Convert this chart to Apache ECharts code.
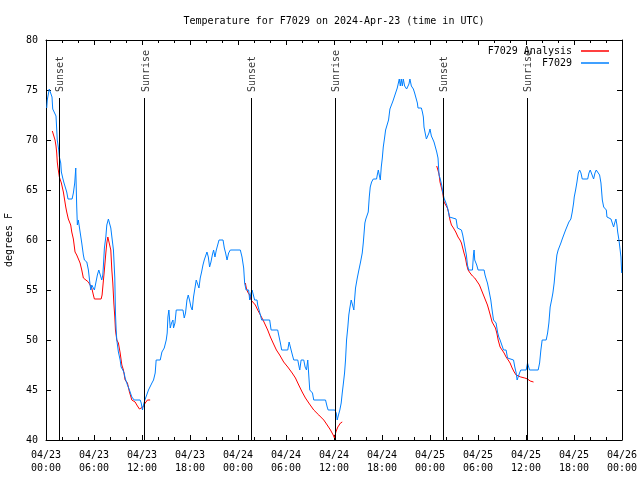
<!DOCTYPE html>
<html><head><meta charset="utf-8">
<script src="https://cdn.jsdelivr.net/npm/echarts@6/dist/echarts.min.js"></script>
<style>html,body{margin:0;padding:0;background:#fff}#c{width:640px;height:480px}</style>
</head><body><div id="c"></div>
<script>
const titleText = 'Temperature for F7029 on 2024-Apr-23 (time in UTC)';
const yAxisName = 'degrees F';
const tickDates = ['04/23','04/23','04/23','04/23','04/24','04/24','04/24','04/24','04/25','04/25','04/25','04/25','04/26'];
const tickTimes = ['00:00','06:00','12:00','18:00','00:00','06:00','12:00','18:00','00:00','06:00','12:00','18:00','00:00'];
const seriesNames = ['F7029 Analysis', 'F7029'];
// [hours since 04/23 00:00 UTC, temperature F]
const stationReadings = [[0.09,73.2],[0.16,74],[0.41,75.1],[0.63,75],[0.75,74.3],[0.84,73.1],[1.09,73],[1.25,72.4],[1.41,70],[1.59,69],[1.67,68.3],[1.84,67.7],[1.92,66.8],[2.09,66.2],[2.25,65.7],[2.59,64.8],[2.75,64.1],[3.26,64.1],[3.42,64.7],[3.59,65.7],[3.72,67.2],[3.79,67.2],[3.84,63.3],[3.92,61.5],[4.04,62],[4.26,61.8],[4.47,59.7],[4.67,58.5],[4.80,58],[5.10,57.8],[5.30,57],[5.51,55.5],[5.60,55],[5.72,55.5],[5.92,55.3],[6.05,55],[6.26,55],[6.42,56.5],[6.60,57],[6.85,57],[6.97,56],[7.10,56.5],[7.18,57.5],[7.30,59.2],[7.48,60.3],[7.60,61.5],[7.80,62.1],[7.93,61.7],[8.10,61.2],[8.35,61],[8.43,59],[8.60,56.2],[8.68,52.7],[8.77,51],[8.85,50],[9.05,48.8],[9.27,48],[9.39,47.3],[9.60,47],[9.77,46.7],[9.89,46.2],[10.18,45.5],[10.43,45],[10.73,44.3],[11.02,44],[11.77,44],[11.90,43.7],[12.06,43],[12.18,43.5],[12.36,44],[12.61,44],[12.81,45],[13.02,45.2],[13.24,45.7],[13.44,46],[13.65,46.7],[13.77,48],[14.28,48],[14.49,48.8],[14.78,49.2],[15.03,50],[15.15,50.7],[15.24,52.3],[15.36,53],[15.53,51.2],[15.69,51.7],[15.87,52],[15.94,51.2],[16.12,51.7],[16.28,53],[17.12,53],[17.28,52.2],[17.44,52.7],[17.62,54],[17.78,54.5],[17.94,54],[18.12,53.3],[18.28,53],[18.44,54.3],[18.62,55.2],[18.78,56],[18.95,55.8],[19.12,55.2],[19.28,56.2],[19.45,56.8],[19.62,57.5],[19.78,58],[19.95,58.2],[20.12,58.8],[20.29,58.3],[20.45,57.3],[20.62,57.8],[20.79,58.5],[20.95,59],[21.12,58.3],[21.29,59],[21.45,59.2],[21.63,60],[22.13,60],[22.29,59.2],[22.45,58.7],[22.63,58],[22.83,58.7],[23.04,59],[24.29,59],[24.50,58.3],[24.71,57.2],[24.83,55.7],[25.01,55],[25.33,55],[25.46,54],[25.63,54.7],[25.76,55],[25.96,55],[26.08,54],[26.38,54],[26.46,53.5],[26.63,53],[26.80,52.5],[26.96,52],[27.96,52],[28.14,51],[28.96,51],[29.14,50.3],[29.30,49.7],[29.46,49],[30.22,49],[30.39,49.8],[30.55,49.7],[30.64,49],[30.80,48.5],[30.97,48],[31.47,48],[31.64,47.3],[31.72,47],[31.89,48],[32.22,48],[32.39,47.3],[32.56,47],[32.72,48],[32.85,48],[32.97,45],[33.18,45],[33.31,44.7],[33.47,44],[34.94,44],[35.15,43.3],[35.27,43],[36.10,43],[36.28,42.7],[36.40,42],[36.56,42.5],[36.73,43],[36.90,43.7],[37.03,44.7],[37.15,45.5],[37.32,46.7],[37.44,48],[37.57,50],[37.73,51.3],[37.85,52.5],[37.98,53.2],[38.15,54],[38.32,53.5],[38.48,53],[38.57,54],[38.69,55.2],[38.91,56.2],[39.11,57],[39.32,57.8],[39.53,58.7],[39.66,59.7],[39.86,61.7],[39.98,62.1],[40.16,62.1],[40.28,62.8],[40.41,64.3],[40.53,65.3],[40.70,65.8],[40.91,66.1],[41.32,66.1],[41.41,66.5],[41.54,67],[41.66,66.5],[41.79,66],[41.91,67.3],[42.04,68.2],[42.16,69.3],[42.32,70.2],[42.45,71],[42.66,71],[42.82,72],[42.99,73.1],[43.24,73.1],[43.37,73.9],[43.49,74.1],[43.70,74.7],[43.91,75.2],[44.04,75.4],[44.16,76.1],[44.29,75.4],[44.41,76.1],[44.54,75.4],[44.66,76.1],[44.83,75.4],[45.08,75.1],[45.24,75.1],[45.37,75.6],[45.49,76.1],[45.67,75.4],[45.92,75.1],[46.08,74.7],[46.25,74.2],[46.42,73.7],[46.50,73.2],[46.92,73.2],[47.05,72.8],[47.17,72.3],[47.25,71.3],[47.42,70.6],[47.55,70.1],[47.75,70.1],[47.87,70.7],[48.00,71.1],[48.17,70.4],[48.34,70.1],[48.50,69.8],[48.67,69.3],[48.84,68.8],[49.00,68.2],[49.13,66.5],[49.25,66.2],[49.46,65.5],[49.59,64.8],[49.75,64.2],[49.93,64],[50.09,63.5],[50.26,63],[50.43,62.3],[50.59,62.1],[51.26,62.1],[51.43,61.2],[51.93,61],[52.09,60.5],[52.25,59.8],[52.43,59],[52.55,58.5],[52.68,57.5],[52.84,57],[53.31,57],[53.43,58.5],[53.51,59],[53.59,58],[53.76,58],[53.84,57.5],[54.01,57],[54.76,57],[54.88,56.5],[55.06,56],[55.18,55.7],[55.31,55.2],[55.51,55],[55.60,54],[55.76,53],[55.94,52],[56.26,51.7],[56.44,50.8],[56.60,50.3],[56.76,50],[57.01,49.8],[57.19,49],[57.51,49],[57.69,48.2],[57.77,48],[58.44,48],[58.60,47.3],[58.77,46.7],[58.89,46],[59.02,46.3],[59.19,46.7],[59.35,47],[60.02,47],[60.19,47.7],[60.36,47.7],[60.44,47],[61.52,47],[61.70,47.7],[61.86,49],[62.02,50],[62.52,50],[62.70,50.7],[62.86,51.7],[63.02,53.3],[63.20,54],[63.36,54.7],[63.52,55.7],[63.70,57.3],[63.86,58.5],[64.02,59],[64.27,59],[64.36,59.7],[64.53,60.1],[64.78,60.1],[64.95,61],[65.20,61.1],[65.36,61.8],[65.61,62.1],[65.78,62.8],[65.95,63.7],[66.03,64.3],[66.20,65],[66.37,65.8],[66.53,66.7],[66.70,67],[66.87,66.7],[67.03,66.1],[67.71,66.1],[67.87,66.7],[68.03,67],[68.28,67],[68.45,66.1],[68.62,66.7],[68.78,67],[69.03,67],[69.20,66.5],[69.37,65.7],[69.54,64],[69.71,63.3],[69.87,63.1],[70.04,63],[70.12,62.3],[70.62,62.1],[70.79,62.1],[70.95,61.3],[71.12,61.8],[71.24,62.1],[71.37,61.5],[71.46,60.8],[71.62,60],[71.75,60],[71.87,58.3],[71.96,56.7]];
const analysisNight1 = [[0.79,70.9],[1.04,70.9],[1.13,70],[1.25,69.4],[1.34,68.7],[1.41,67.8],[1.50,67.2],[1.67,66.3],[1.84,66.2],[1.92,65.7],[2.09,65.6],[2.17,64.8],[2.29,64.2],[2.47,63.3],[2.59,62.8],[2.79,62.1],[2.92,62],[3.09,61.5],[3.22,60.8],[3.42,60.1],[3.63,58.8],[3.84,58.5],[4.04,58.4],[4.26,57.7],[4.47,57],[4.67,56.2],[4.88,56],[5.30,55.8],[5.51,55.5],[5.72,55.2],[5.92,54.5],[6.05,54.1],[6.89,54.1],[7.01,54.5],[7.18,56],[7.30,57],[7.48,58.7],[7.60,59.7],[7.73,60.3],[7.93,60.4],[8.10,59],[8.23,57],[8.35,55.7],[8.48,53.7],[8.60,52.3],[8.68,51],[8.85,50],[9.05,49.7],[9.27,48.7],[9.48,47.5],[9.68,47],[9.89,46],[10.18,45.7],[10.43,44.8],[10.73,44],[11.14,43.8],[11.43,43.4],[11.68,43.1],[11.90,43],[12.11,43.3],[12.40,43.7],[12.68,44],[13.02,44]];
const analysisNight2 = [[24.92,55.7],[25.04,55.2],[25.21,54.8],[25.46,54.5],[25.63,54],[25.88,53.8],[26.17,53.5],[26.46,53],[26.80,52.5],[27.13,52],[27.42,51.5],[27.71,51],[28.05,50.3],[28.39,49.7],[28.80,49],[29.21,48.5],[29.71,47.8],[30.22,47.3],[30.77,46.7],[31.18,46.2],[31.59,45.5],[32.02,44.8],[32.43,44.2],[32.85,43.7],[33.47,43],[34.10,42.5],[34.72,42],[35.15,41.5],[35.56,41],[35.90,40.5],[36.06,40.2],[36.23,40.8],[36.48,41.3],[36.81,41.7],[37.03,41.8]];
const analysisNight3 = [[48.84,67.4],[49.00,67.3],[49.13,66.6],[49.25,65.8],[49.46,65.7],[49.59,64.7],[49.75,63.8],[49.96,63.5],[50.17,63.2],[50.34,62.7],[50.50,62],[50.68,61.5],[50.93,61.2],[51.22,60.8],[51.50,60.3],[51.75,60],[51.93,59.7],[52.09,59.2],[52.25,58.7],[52.43,58.2],[52.59,57.5],[52.76,57],[53.01,56.7],[53.31,56.4],[53.59,56.2],[53.93,55.8],[54.18,55.5],[54.43,55],[54.68,54.5],[54.93,54],[55.18,53.5],[55.43,52.8],[55.60,52.3],[55.76,51.8],[56.01,51.7],[56.18,51.2],[56.35,50.7],[56.52,50],[56.76,49.3],[57.01,49],[57.26,48.7],[57.51,48.3],[57.77,48],[58.01,47.7],[58.27,47.2],[58.52,46.8],[58.77,46.5],[59.02,46.3],[59.35,46.3],[59.85,46.2],[60.19,46.1],[60.52,45.9],[60.94,45.8]];
const sunsetHours = [1.66, 25.66, 49.66];
const sunriseHours = [12.29, 36.16, 60.16];
const sunLineTop = 74.2;
const sunLabelBase = 74.8;

const FONT = 'DejaVu Sans Mono';
const RED = '#ff0000', BLUE = '#0080ff';
const chart = echarts.init(document.getElementById('c'), null, {renderer: 'canvas'});

const baseText = {fontFamily: FONT, fontSize: 10, color: '#000'};
function xAx(pos, labels) {
  return {
    type: 'value', min: 0, max: 72, interval: 6, position: pos,
    axisLine: {show: true, onZero: false, lineStyle: {color: '#000', width: 1}},
    axisTick: {show: true, inside: true, length: 5, lineStyle: {color: '#000', width: 1}},
    minorTick: {show: true, splitNumber: 3, length: 3, lineStyle: {color: '#000', width: 1}},
    splitLine: {show: false}, minorSplitLine: {show: false},
    axisLabel: labels ? Object.assign({
      show: true, margin: 9, lineHeight: 13,
      formatter: v => { const i = Math.round(v / 6); return tickDates[i] + '\n' + tickTimes[i]; }
    }, baseText) : {show: false}
  };
}
function yAx(pos, labels) {
  const a = {
    type: 'value', min: 40, max: 80, interval: 5, position: pos,
    axisLine: {show: true, onZero: false, lineStyle: {color: '#000', width: 1}},
    axisTick: {show: true, inside: true, length: 5, lineStyle: {color: '#000', width: 1}},
    splitLine: {show: false},
    axisLabel: labels ? Object.assign({show: true, margin: 8}, baseText) : {show: false}
  };
  if (labels) {
    a.name = yAxisName; a.nameLocation = 'middle'; a.nameGap = 32; a.nameRotate = 90;
    a.nameTextStyle = Object.assign({}, baseText);
  }
  return a;
}
function legendFor(name, top) {
  return {
    data: [name], right: 31, top: top, orient: 'vertical', align: 'right',
    padding: 0, itemWidth: 28, itemHeight: 1.5, icon: 'rect',
    textStyle: Object.assign({padding: [0, 4, 0, 0], lineHeight: 12}, baseText),
    selectedMode: false
  };
}
function analysisSeries(seg) {
  return {
    name: seriesNames[0], type: 'line', data: seg, showSymbol: false, symbol: 'none',
    lineStyle: {color: RED, width: 1}, itemStyle: {color: RED}, z: 3, silent: true
  };
}
const sunLabels = sunsetHours.map(h => ({value: [h + 0.2, sunLabelBase], label: {formatter: 'Sunset'}}))
  .concat(sunriseHours.map(h => ({value: [h + 0.2, sunLabelBase], label: {formatter: 'Sunrise'}})));

chart.setOption({
  animation: false,
  backgroundColor: '#fff',
  title: {text: titleText, left: 329, top: 11, textAlign: 'center',
    textStyle: Object.assign({fontWeight: 'normal'}, baseText)},
  legend: [legendFor(seriesNames[0], 45), legendFor(seriesNames[1], 57)],
  grid: {left: 46, right: 18, top: 40, bottom: 40, containLabel: false, outerBoundsMode: 'none'},
  xAxis: [xAx('bottom', true), xAx('top', false)],
  yAxis: [yAx('left', true), yAx('right', false)],
  series: [
    analysisSeries(analysisNight1),
    analysisSeries(analysisNight2),
    analysisSeries(analysisNight3),
    {
      name: seriesNames[1], type: 'line', data: stationReadings, showSymbol: false, symbol: 'none',
      lineStyle: {color: BLUE, width: 1}, itemStyle: {color: BLUE}, z: 4, silent: true
    },
    {
      name: 'sun', type: 'line', data: [], silent: true, z: 2,
      markLine: {
        silent: true, symbol: ['none', 'none'], animation: false,
        lineStyle: {color: '#000', width: 1, type: 'solid'},
        label: {show: false},
        data: sunsetHours.concat(sunriseHours).map(h => [{coord: [h, 40]}, {coord: [h, sunLineTop]}])
      }
    },
    {
      name: 'sunlabels', type: 'scatter', data: sunLabels, symbolSize: 1,
      itemStyle: {color: 'rgba(0,0,0,0)'}, silent: true, z: 5,
      label: Object.assign({show: true, position: 'inside', rotate: 90, align: 'left', verticalAlign: 'middle'}, baseText)
    }
  ]
});
</script></body></html>
